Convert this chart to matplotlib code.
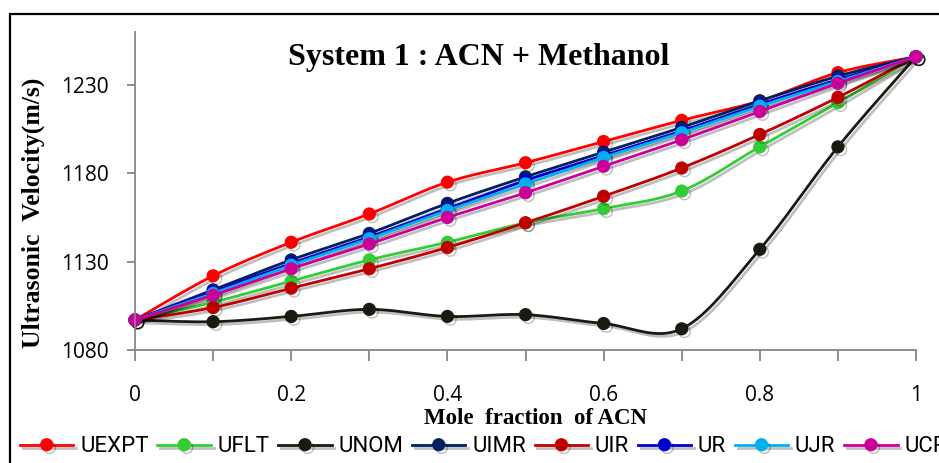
import numpy as np
import matplotlib
matplotlib.use("Agg")
import matplotlib.pyplot as plt
import matplotlib.patheffects as pe
from matplotlib.patches import Rectangle

# data
mole_fraction = [0, 0.1, 0.2, 0.3, 0.4, 0.5, 0.6, 0.7, 0.8, 0.9, 1.0]
series_names = ["UEXPT", "UFLT", "UNOM", "UIMR", "UIR", "UR", "UJR", "UCR"]
UEXPT = [1097, 1122, 1141, 1157, 1175, 1186, 1198, 1210, 1221, 1237, 1246]
UFLT = [1097, 1107, 1119, 1131, 1141, 1152, 1160, 1170, 1195, 1220, 1246]
UNOM = [1097, 1096, 1099, 1103, 1099, 1100, 1095, 1092, 1137, 1195, 1246]
UIMR = [1097, 1114, 1131, 1146, 1163, 1178, 1192, 1206, 1221, 1235, 1246]
UIR = [1097, 1104, 1115, 1126, 1138, 1152, 1167, 1183, 1202, 1223, 1246]
UR = [1097, 1113, 1129, 1144, 1160, 1176, 1190, 1204, 1219, 1233, 1246]
UJR = [1097, 1112, 1128, 1143, 1159, 1174, 1189, 1203, 1218, 1232, 1246]
UCR = [1097, 1111, 1126, 1140, 1155, 1169, 1184, 1199, 1215, 1231, 1246]
yticks = [1080, 1130, 1180, 1230]
xtick_labels = ["0", "", "0.2", "", "0.4", "", "0.6", "", "0.8", "", "1"]

colors = ["#ff0000", "#33cc33", "#1a1a10", "#002060", "#c00000", "#0000cc", "#00b0f0", "#cc0099"]
all_series = [UEXPT, UFLT, UNOM, UIMR, UIR, UR, UJR, UCR]


def smooth(x, y, n=20):
    # excel style smoothed line (bezier through the points)
    x = np.asarray(x, float)
    y = np.asarray(y, float)
    px = np.concatenate([[x[0]], x, [x[-1]]])
    py = np.concatenate([[y[0]], y, [y[-1]]])
    xs, ys = [], []
    t = np.linspace(0, 1, n, endpoint=False)
    for i in range(len(x) - 1):
        p0x, p1x, p2x, p3x = px[i], px[i + 1], px[i + 2], px[i + 3]
        p0y, p1y, p2y, p3y = py[i], py[i + 1], py[i + 2], py[i + 3]
        c1x, c1y = p1x + (p2x - p0x) / 6, p1y + (p2y - p0y) / 6
        c2x, c2y = p2x - (p3x - p1x) / 6, p2y - (p3y - p1y) / 6
        b = [(1 - t) ** 3, 3 * (1 - t) ** 2 * t, 3 * (1 - t) * t ** 2, t ** 3]
        xs.extend(b[0] * p1x + b[1] * c1x + b[2] * c2x + b[3] * p2x)
        ys.extend(b[0] * p1y + b[1] * c1y + b[2] * c2y + b[3] * p2y)
    xs.append(x[-1])
    ys.append(y[-1])
    marks = list(range(0, len(xs), n))
    return np.array(xs), np.array(ys), marks


fig = plt.figure(figsize=(9.39, 4.63), dpi=100)
ax = fig.add_axes([135 / 939, 1 - 350 / 463, (916 - 135) / 939, (350 - 32) / 463])

shadow = [pe.SimpleLineShadow(offset=(2, -2), shadow_color="k", alpha=0.25), pe.Normal()]
for name, vals, c in zip(series_names, all_series, colors):
    xs, ys, marks = smooth(mole_fraction, vals)
    ax.plot(xs, ys, color=c, lw=2, marker="o", markersize=8.5, markevery=marks,
            label=name, path_effects=shadow, clip_on=False)

ax.set_xlim(0, 1)
ax.set_ylim(1080, 1260)
ax.set_xticks(mole_fraction)
ax.set_xticklabels(xtick_labels)
ax.set_yticks(yticks)
for s in ["top", "right"]:
    ax.spines[s].set_visible(False)
for s in ["left", "bottom"]:
    ax.spines[s].set_color("#868686")
    ax.spines[s].set_linewidth(1.3)
ax.tick_params(axis="x", length=8, width=1.3, color="#868686", pad=17, labelsize=15)
ax.tick_params(axis="y", length=6, width=1.3, color="#868686", pad=13, labelsize=15)
for lab in ax.get_xticklabels() + ax.get_yticklabels():
    lab.set_fontfamily("Open Sans")

fig.text(479 / 939, 1 - 65 / 463, "System 1 : ACN + Methanol", ha="center", va="baseline",
         family="Liberation Serif", fontweight="bold", fontsize=23)
fig.text(535 / 939, 1 - 424 / 463, "Mole  fraction  of ACN", ha="center", va="baseline",
         family="Liberation Serif", fontweight="bold", fontsize=16.5)
fig.text(33 / 939, 1 - 213 / 463, "Ultrasonic  Velocity(m/s)", ha="center", va="center",
         rotation=90, family="Liberation Serif", fontweight="bold", fontsize=18.5)

# chart border (cut by the picture edge on the right and bottom)
fig.patches.append(Rectangle((10 / 939, -0.2), 1.2, 1.2 - 14 / 463, transform=fig.transFigure,
                             fill=False, edgecolor="black", lw=1.6, clip_on=False))

fig.legend(loc="center left", bbox_to_anchor=(20 / 939, 1 - 447 / 463),
           bbox_transform=fig.transFigure, ncol=8, frameon=False, borderpad=0,
           borderaxespad=0, handlelength=2.4, handletextpad=0.3, columnspacing=0.4,
           prop={"family": "Roboto", "size": 16})

fig.savefig("out.png", dpi=100)
